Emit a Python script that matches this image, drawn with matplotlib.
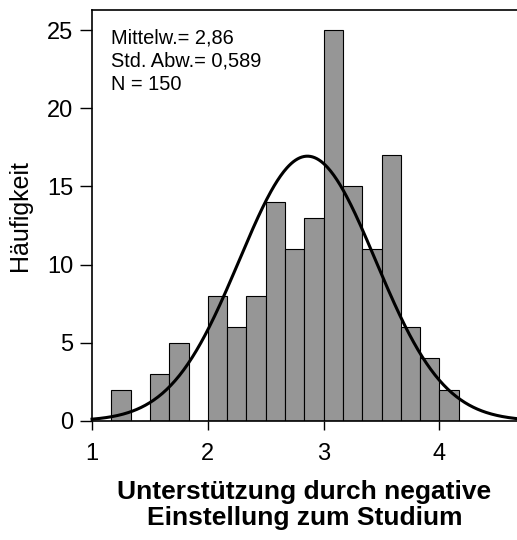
import numpy as np
import matplotlib
matplotlib.use('Agg')
import matplotlib.pyplot as plt

plt.rcParams['font.family'] = ['Liberation Sans', 'DejaVu Sans']

# histogram bins (width 1/6) starting at 1.0 and the counts
bin_start = 1.0
bin_width = 1 / 6
counts = [0, 2, 0, 3, 5, 0, 8, 6, 8, 14, 11, 13, 25, 15, 11, 17, 6, 4, 2]

# summary statistics shown in the chart
mean = 2.86
std = 0.589
n = 150

x_ticks = [1, 2, 3, 4]
y_ticks = [0, 5, 10, 15, 20, 25]


def normal_curve(x, mean, std, n, width):
    ''' Normal density scaled to the histogram counts '''
    return n * width * np.exp(-0.5 * ((x - mean) / std) ** 2) / (std * np.sqrt(2 * np.pi))


def main():
    fig = plt.figure(figsize=(5.17, 5.40), dpi=100)
    ax = fig.add_axes([0.178, 0.2204, 0.822, 0.7611])

    lefts = bin_start + bin_width * np.arange(len(counts))
    ax.bar(lefts, counts, width=bin_width, align='edge', color='#969696',
           edgecolor='black', linewidth=0.8, zorder=2)

    xs = np.linspace(1, 4.67, 400)
    ax.plot(xs, normal_curve(xs, mean, std, n, bin_width), color='black',
            linewidth=2.2, zorder=3, clip_on=False)

    ax.set_xlim(1, 4.67)
    ax.set_ylim(0, 26.28)
    ax.set_xticks(x_ticks)
    ax.set_yticks(y_ticks)
    ax.tick_params(axis='x', direction='out', length=6.5, width=1.0, pad=9, labelsize=17)
    ax.tick_params(axis='y', direction='out', length=8.5, width=1.0, pad=5, labelsize=17)

    ax.spines['right'].set_visible(False)
    for side in ['left', 'top', 'bottom']:
        ax.spines[side].set_linewidth(1.2)

    ax.set_ylabel('Häufigkeit', fontsize=18, labelpad=11)
    ax.set_xlabel('Unterstützung durch negative\nEinstellung zum Studium',
                  fontsize=19, fontweight='bold', linespacing=1.1, labelpad=11)

    ax.text(0.045, 0.955, 'Mittelw.= 2,86\nStd. Abw.= 0,589\nN = 150',
            transform=ax.transAxes, fontsize=14.4, va='top', ha='left',
            linespacing=1.3)

    fig.savefig('out.png', dpi=100)


if __name__ == '__main__':
    main()
